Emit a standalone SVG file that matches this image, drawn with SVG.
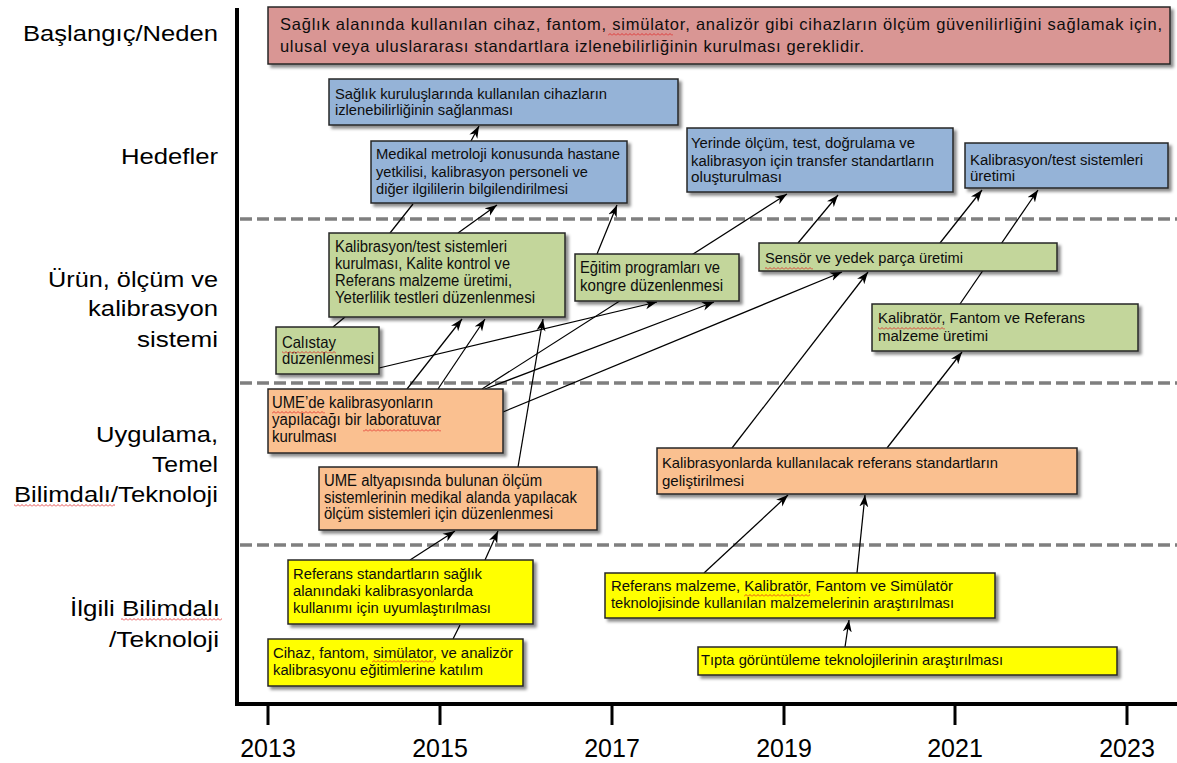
<svg xmlns="http://www.w3.org/2000/svg" width="1177" height="763" viewBox="0 0 1177 763">
<style>
text{font-family:"Liberation Sans",Arial,sans-serif;fill:#0d0d0d}
.lbl{font-size:22.5px;fill:#000}
.yr{font-size:25px;fill:#000;text-anchor:middle}
.box{stroke:#262626;stroke-width:1.5;filter:url(#sh)}
.red{fill:#D99694}.blue{fill:#95B3D7}.green{fill:#C3D69B}.orange{fill:#FAC090}.yellow{fill:#FFFF00}
.c{stroke:#000;stroke-width:1.25;fill:none}
.a{marker-end:url(#arr)}
.dash{stroke:#7f7f7f;stroke-width:3.5;stroke-dasharray:12 5}
.sq{fill:url(#sqp)}
</style>
<defs>
<filter id="sh" x="-10%" y="-20%" width="130%" height="150%">
<feDropShadow dx="3" dy="3" stdDeviation="1.8" flood-color="#000" flood-opacity="0.45"/>
</filter>
<marker id="arr" viewBox="0 0 12 10" refX="12" refY="5" markerWidth="12" markerHeight="10" markerUnits="userSpaceOnUse" orient="auto">
<path d="M0,0.5 L12,5 L0,9.5 L3.5,5 z" fill="#000"/>
</marker>
<pattern id="sqp" width="4" height="3" patternUnits="userSpaceOnUse">
<path d="M0,2.5 L2,0.5 L4,2.5" stroke="#e02020" stroke-width="0.8" fill="none"/>
</pattern>
</defs>
<rect width="1177" height="763" fill="#fff"/>

<g id="row-labels">
<text class="lbl" x="23" y="41" textLength="195" lengthAdjust="spacingAndGlyphs">Başlangıç/Neden</text>
<text class="lbl" x="121" y="164" textLength="97" lengthAdjust="spacingAndGlyphs">Hedefler</text>
<text class="lbl" x="48" y="287" textLength="170" lengthAdjust="spacingAndGlyphs">Ürün, ölçüm ve</text>
<text class="lbl" x="88" y="316" textLength="130" lengthAdjust="spacingAndGlyphs">kalibrasyon</text>
<text class="lbl" x="137" y="347" textLength="81" lengthAdjust="spacingAndGlyphs">sistemi</text>
<text class="lbl" x="96" y="442" textLength="122" lengthAdjust="spacingAndGlyphs">Uygulama,</text>
<text class="lbl" x="152" y="472" textLength="66" lengthAdjust="spacingAndGlyphs">Temel</text>
<text class="lbl" x="14" y="502" textLength="204" lengthAdjust="spacingAndGlyphs">Bilimdalı/Teknoloji</text>
<text class="lbl" x="70" y="616" textLength="150" lengthAdjust="spacingAndGlyphs">İlgili Bilimdalı</text>
<text class="lbl" x="109" y="647" textLength="110" lengthAdjust="spacingAndGlyphs">/Teknoloji</text>
</g>

<g id="grid">
<line class="dash" x1="240" y1="219" x2="1177" y2="219"/>
<line class="dash" x1="240" y1="383" x2="1177" y2="383"/>
<line class="dash" x1="240" y1="545" x2="1177" y2="545"/>
</g>

<g id="axes" stroke="#000">
<line x1="237" y1="8" x2="237" y2="706" stroke-width="4"/>
<line x1="235" y1="704" x2="1177" y2="704" stroke-width="4"/>
<g stroke-width="3">
<line x1="268" y1="706" x2="268" y2="725"/>
<line x1="440" y1="706" x2="440" y2="725"/>
<line x1="612" y1="706" x2="612" y2="725"/>
<line x1="784" y1="706" x2="784" y2="725"/>
<line x1="955" y1="706" x2="955" y2="725"/>
<line x1="1127" y1="706" x2="1127" y2="725"/>
</g>
</g>
<g id="years">
<text class="yr" x="268" y="757">2013</text>
<text class="yr" x="440" y="757">2015</text>
<text class="yr" x="612" y="757">2017</text>
<text class="yr" x="784" y="757">2019</text>
<text class="yr" x="955" y="757">2021</text>
<text class="yr" x="1127" y="757">2023</text>
</g>

<g id="connectors">
<line class="c a" x1="471" y1="141" x2="479" y2="126"/>
<line class="c" x1="390" y1="233" x2="413" y2="204"/>
<line class="c a" x1="458" y1="233" x2="497" y2="205"/>
<line class="c a" x1="597" y1="254" x2="617" y2="205"/>
<line class="c a" x1="482" y1="389" x2="787" y2="194"/>
<line class="c a" x1="798" y1="243" x2="838" y2="195"/>
<line class="c a" x1="940" y1="243" x2="982" y2="190"/>
<line class="c a" x1="960" y1="304" x2="1038" y2="190"/>
<line class="c" x1="333" y1="327" x2="345" y2="317"/>
<line class="c a" x1="407" y1="389" x2="462" y2="319"/>
<line class="c a" x1="438" y1="389" x2="485" y2="319"/>
<line class="c a" x1="518" y1="467" x2="543" y2="319"/>
<line class="c a" x1="379" y1="368" x2="657" y2="302"/>
<line class="c a" x1="485" y1="389" x2="714" y2="302"/>
<line class="c a" x1="503" y1="412" x2="842" y2="272"/>
<line class="c a" x1="732" y1="448" x2="868" y2="272"/>
<line class="c a" x1="887" y1="448" x2="962" y2="352"/>
<line class="c a" x1="410" y1="560" x2="455" y2="531"/>
<line class="c a" x1="485" y1="560" x2="498" y2="531"/>
<line class="c" x1="453" y1="639" x2="460" y2="625"/>
<line class="c a" x1="704" y1="573" x2="788" y2="495"/>
<line class="c a" x1="857" y1="573" x2="865" y2="495"/>
<line class="c a" x1="845" y1="647" x2="849" y2="620"/>
</g>

<g id="n-neden">
<rect class="box red" x="268" y="7" width="902" height="57"/>
<text x="280" y="30" font-size="16.5" textLength="882" lengthAdjust="spacing">Sağlık alanında kullanılan cihaz, fantom, simülator, analizör gibi cihazların ölçüm güvenilirliğini sağlamak için,</text>
<text x="280" y="52" font-size="16.5" textLength="584" lengthAdjust="spacing">ulusal veya uluslararası standartlara izlenebilirliğinin kurulması gereklidir.</text>
</g>

<g id="n-hedef1">
<rect class="box blue" x="329" y="79" width="349" height="46"/>
<text x="335" y="99" font-size="15" textLength="272" lengthAdjust="spacingAndGlyphs">Sağlık kuruluşlarında kullanılan cihazların</text>
<text x="335" y="115" font-size="15" textLength="178" lengthAdjust="spacingAndGlyphs">izlenebilirliğinin sağlanması</text>
</g>
<g id="n-hedef2">
<rect class="box blue" x="371" y="141" width="256" height="62"/>
<text x="376" y="159" font-size="15.5" textLength="244" lengthAdjust="spacingAndGlyphs">Medikal metroloji konusunda hastane</text>
<text x="376" y="177" font-size="15.5" textLength="212" lengthAdjust="spacingAndGlyphs">yetkilisi, kalibrasyon personeli ve</text>
<text x="376" y="194" font-size="15.5" textLength="192" lengthAdjust="spacingAndGlyphs">diğer ilgililerin bilgilendirilmesi</text>
</g>
<g id="n-hedef3">
<rect class="box blue" x="687" y="128" width="266" height="64"/>
<text x="691" y="148" font-size="15.5" textLength="224" lengthAdjust="spacingAndGlyphs">Yerinde ölçüm, test, doğrulama ve</text>
<text x="691" y="166" font-size="15.5" textLength="243" lengthAdjust="spacingAndGlyphs">kalibrasyon için transfer standartların</text>
<text x="691" y="182" font-size="15.5" textLength="91" lengthAdjust="spacingAndGlyphs">oluşturulması</text>
</g>
<g id="n-hedef4">
<rect class="box blue" x="965" y="143" width="203" height="45"/>
<text x="970" y="165" font-size="15.5" textLength="173" lengthAdjust="spacingAndGlyphs">Kalibrasyon/test sistemleri</text>
<text x="970" y="181" font-size="15.5" textLength="45" lengthAdjust="spacingAndGlyphs">üretimi</text>
</g>

<g id="n-urun1">
<rect class="box green" x="329" y="233" width="236" height="84"/>
<text x="335" y="252" font-size="16" textLength="172" lengthAdjust="spacingAndGlyphs">Kalibrasyon/test sistemleri</text>
<text x="335" y="269" font-size="16" textLength="175" lengthAdjust="spacingAndGlyphs">kurulması, Kalite kontrol ve</text>
<text x="335" y="286" font-size="16" textLength="177" lengthAdjust="spacingAndGlyphs">Referans malzeme üretimi,</text>
<text x="335" y="303" font-size="16" textLength="200" lengthAdjust="spacingAndGlyphs">Yeterlilik testleri düzenlenmesi</text>
</g>
<g id="n-urun2">
<rect class="box green" x="276" y="327" width="103" height="47"/>
<text x="282" y="348" font-size="16.5" textLength="54" lengthAdjust="spacingAndGlyphs">Calıstay</text>
<text x="282" y="364" font-size="16.5" textLength="92" lengthAdjust="spacingAndGlyphs">düzenlenmesi</text>
</g>
<g id="n-urun3">
<rect class="box green" x="575" y="254" width="164" height="47"/>
<text x="580" y="273" font-size="16" textLength="140" lengthAdjust="spacingAndGlyphs">Eğitim programları ve</text>
<text x="580" y="291" font-size="16" textLength="143" lengthAdjust="spacingAndGlyphs">kongre düzenlenmesi</text>
</g>
<g id="n-urun4">
<rect class="box green" x="759" y="243" width="298" height="28"/>
<text x="765" y="263" font-size="15.5" textLength="198" lengthAdjust="spacingAndGlyphs">Sensör ve yedek parça üretimi</text>
</g>
<g id="n-urun5">
<rect class="box green" x="872" y="304" width="266" height="47"/>
<text x="878" y="323" font-size="15.5" textLength="207" lengthAdjust="spacingAndGlyphs">Kalibratör, Fantom ve  Referans</text>
<text x="878" y="341" font-size="15.5" textLength="110" lengthAdjust="spacingAndGlyphs">malzeme üretimi</text>
</g>

<g id="n-uyg1">
<rect class="box orange" x="268" y="389" width="235" height="64"/>
<text x="272" y="408" font-size="16" textLength="161" lengthAdjust="spacingAndGlyphs">UME’de kalibrasyonların</text>
<text x="272" y="425" font-size="16" textLength="169" lengthAdjust="spacingAndGlyphs">yapılacağı bir laboratuvar</text>
<text x="272" y="442" font-size="16" textLength="65" lengthAdjust="spacingAndGlyphs">kurulması</text>
</g>
<g id="n-uyg2">
<rect class="box orange" x="319" y="467" width="278" height="63"/>
<text x="324" y="486" font-size="16" textLength="218" lengthAdjust="spacingAndGlyphs">UME altyapısında bulunan ölçüm</text>
<text x="324" y="503" font-size="16" textLength="253" lengthAdjust="spacingAndGlyphs">sistemlerinin medikal alanda yapılacak</text>
<text x="324" y="519" font-size="16" textLength="229" lengthAdjust="spacingAndGlyphs">ölçüm sistemleri için düzenlenmesi</text>
</g>
<g id="n-uyg3">
<rect class="box orange" x="657" y="448" width="420" height="46"/>
<text x="662" y="468" font-size="14.5" textLength="336" lengthAdjust="spacingAndGlyphs">Kalibrasyonlarda kullanılacak referans standartların</text>
<text x="662" y="486" font-size="14.5" textLength="82" lengthAdjust="spacingAndGlyphs">geliştirilmesi</text>
</g>

<g id="n-ilgili1">
<rect class="box yellow" x="288" y="560" width="245" height="64"/>
<text x="293" y="579" font-size="15.5" textLength="189" lengthAdjust="spacingAndGlyphs">Referans standartların sağlık</text>
<text x="293" y="596" font-size="15.5" textLength="180" lengthAdjust="spacingAndGlyphs">alanındaki kalibrasyonlarda</text>
<text x="293" y="613" font-size="15.5" textLength="198" lengthAdjust="spacingAndGlyphs">kullanımı için uyumlaştırılması</text>
</g>
<g id="n-ilgili2">
<rect class="box yellow" x="268" y="639" width="255" height="47"/>
<text x="273" y="658" font-size="15.5" textLength="240" lengthAdjust="spacingAndGlyphs">Cihaz, fantom, simülator, ve analizör</text>
<text x="273" y="675" font-size="15.5" textLength="210" lengthAdjust="spacingAndGlyphs">kalibrasyonu eğitimlerine katılım</text>
</g>
<g id="n-ilgili3">
<rect class="box yellow" x="605" y="573" width="390" height="45"/>
<text x="611" y="591" font-size="14.5" textLength="342" lengthAdjust="spacingAndGlyphs">Referans malzeme, Kalibratör, Fantom  ve Simülatör</text>
<text x="611" y="608" font-size="14.5" textLength="343" lengthAdjust="spacingAndGlyphs">teknolojisinde kullanılan malzemelerinin araştırılması</text>
</g>
<g id="n-ilgili4">
<rect class="box yellow" x="698" y="647" width="419" height="28"/>
<text x="701" y="665" font-size="14.5" textLength="302" lengthAdjust="spacingAndGlyphs">Tıpta görüntüleme teknolojilerinin araştırılması</text>
</g>

<g id="spellcheck-marks">
<rect class="sq" x="608" y="33" width="65" height="3"/>
<rect class="sq" x="282" y="351" width="54" height="3"/>
<rect class="sq" x="272" y="411" width="53" height="3"/>
<rect class="sq" x="363" y="429" width="78" height="3"/>
<rect class="sq" x="765" y="267" width="48" height="3"/>
<rect class="sq" x="878" y="327" width="67" height="3"/>
<rect class="sq" x="372" y="660" width="62" height="3"/>
<rect class="sq" x="744" y="594" width="66" height="3"/>
<rect class="sq" x="14" y="504" width="101" height="3"/>
<rect class="sq" x="121" y="618" width="101" height="3"/>
</g>
</svg>
